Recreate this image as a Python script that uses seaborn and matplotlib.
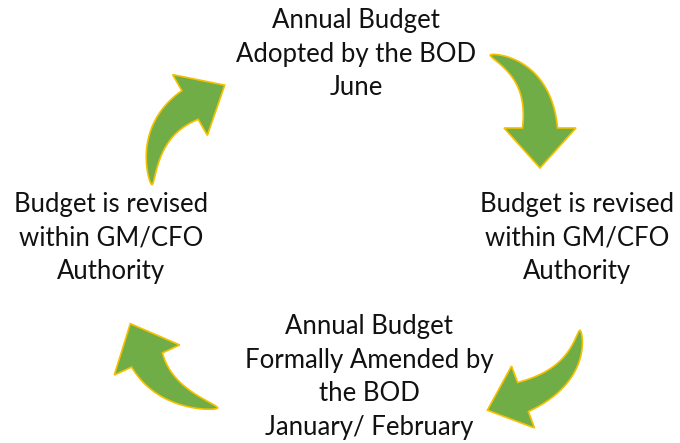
import numpy as np
import matplotlib.pyplot as plt
import seaborn as sns
from matplotlib.patches import Polygon

sns.set_style("white")
plt.rcParams['font.family'] = ['Lato', 'DejaVu Sans']

# text blocks of the cycle (center x, center y in pixels)
labels = [
    "Annual Budget\nAdopted by the BOD\nJune",
    "Budget is revised\nwithin GM/CFO\nAuthority",
    "Annual Budget\nFormally Amended by\nthe BOD\nJanuary/ February",
    "Budget is revised\nwithin GM/CFO\nAuthority",
]
label_x = [356, 577, 369, 111]
label_y = [54, 238, 377, 238]

# curved arrows: tail, control point, head base centre
arrow_tail = [(490, 55), (580, 330), (218, 408), (152, 185)]
arrow_ctrl = [(540, 72), (577, 377), (164, 397), (148, 129)]
arrow_end = [(540, 128), (523, 397), (147, 360), (190, 105)]
body_width = [35, 31, 34, 33]
head_width = [72, 66, 72, 70]
head_len = [40, 38, 40, 40]

GREEN = "#70AD47"
EDGE = "#F5C000"


def curved_arrow(ax, p0, p1, p2, wb, wh, hl):
    p0, p1, p2 = map(np.array, (p0, p1, p2))
    t = np.linspace(0, 1, 60)[:, None]
    pts = (1 - t) ** 2 * p0 + 2 * (1 - t) * t * p1 + t ** 2 * p2
    tan = 2 * (1 - t) * (p1 - p0) + 2 * t * (p2 - p1)
    tan = tan / np.linalg.norm(tan, axis=1, keepdims=True)
    nrm = np.column_stack([-tan[:, 1], tan[:, 0]])
    w = wb * t[:, 0] ** 0.65 / 2
    left = pts + nrm * w[:, None]
    right = pts - nrm * w[:, None]
    d, n = tan[-1], nrm[-1]
    head = [p2 + n * wh / 2, p2 + d * hl, p2 - n * wh / 2]
    poly = np.vstack([left, head, right[::-1]])
    ax.add_patch(Polygon(poly, closed=True, facecolor=GREEN, edgecolor=EDGE,
                         linewidth=1.2, joinstyle="miter"))


fig = plt.figure(figsize=(6.8, 4.43), dpi=100)
ax = fig.add_axes([0, 0, 1, 1])
ax.set_xlim(0, 680)
ax.set_ylim(443, 0)
ax.axis("off")

for i in range(4):
    curved_arrow(ax, arrow_tail[i], arrow_ctrl[i], arrow_end[i],
                 body_width[i], head_width[i], head_len[i])

for txt, x, y in zip(labels, label_x, label_y):
    ax.text(x, y, txt, ha="center", va="center", fontsize=18.5,
            linespacing=1.42, color="#111111")

fig.savefig("out.png", dpi=100, facecolor="white")
